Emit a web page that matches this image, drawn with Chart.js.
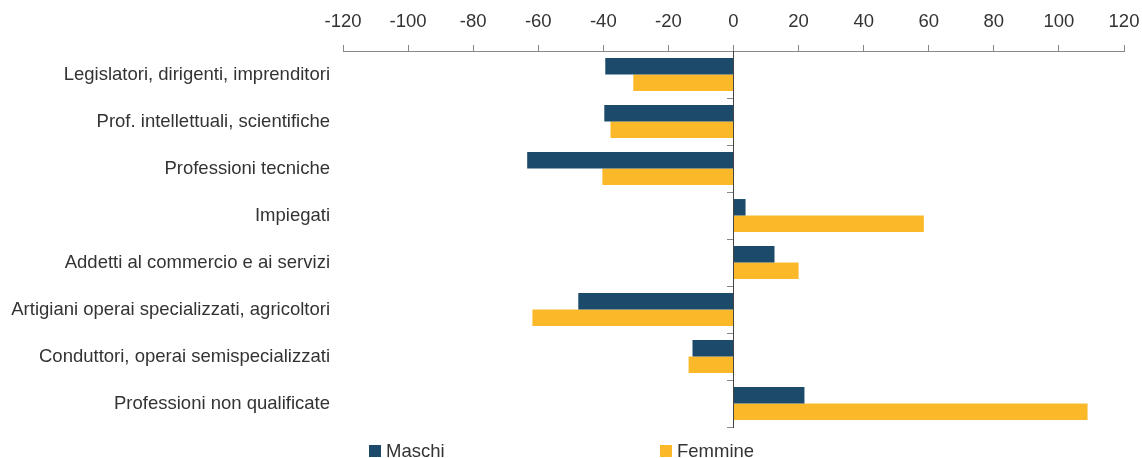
<!DOCTYPE html>
<html>
<head>
<meta charset="utf-8">
<script src="https://cdn.jsdelivr.net/npm/chart.js@4"></script>
<style>
  html, body { margin: 0; padding: 0; background: #fff; }
  #wrap { width: 1142px; height: 458px; position: relative; }
</style>
</head>
<body>
<div id="wrap"><canvas id="c" width="1142" height="458"></canvas></div>
<script>
const categories = [
  "Legislatori, dirigenti, imprenditori",
  "Prof. intellettuali, scientifiche",
  "Professioni tecniche",
  "Impiegati",
  "Addetti al commercio e ai servizi",
  "Artigiani operai specializzati, agricoltori",
  "Conduttori, operai semispecializzati",
  "Professioni non qualificate"
];
const maschi = [-39.4, -39.7, -63.4, 3.7, 12.6, -47.7, -12.6, 21.8];
const femmine = [-30.8, -37.8, -40.3, 58.5, 20.0, -61.8, -13.8, 108.8];
const seriesNames = ["Maschi", "Femmine"];
const seriesColors = ["#1b4a6b", "#fbb929"];
const xMin = -120, xMax = 120, xStep = 20;

const FONT = "'Liberation Sans', Arial, sans-serif";
const TEXT = "#333333";

const legendPlugin = {
  id: 'fixedLegend',
  afterDraw(chart) {
    const ctx = chart.ctx;
    const xs = [369, 660];
    ctx.save();
    ctx.font = "18.5px " + FONT;
    ctx.textBaseline = 'alphabetic';
    ctx.textAlign = 'left';
    chart.data.datasets.forEach((ds, i) => {
      ctx.fillStyle = ds.backgroundColor;
      ctx.fillRect(xs[i], 445, 12, 12);
      ctx.fillStyle = TEXT;
      ctx.fillText(ds.label, xs[i] + 17, 457);
    });
    ctx.restore();
  }
};

new Chart(document.getElementById('c'), {
  type: 'bar',
  data: {
    labels: categories,
    datasets: [
      { label: seriesNames[0], data: maschi, backgroundColor: seriesColors[0], categoryPercentage: 0.7, barPercentage: 1.0 },
      { label: seriesNames[1], data: femmine, backgroundColor: seriesColors[1], categoryPercentage: 0.7, barPercentage: 1.0 }
    ]
  },
  options: {
    indexAxis: 'y',
    responsive: false,
    animation: false,
    layout: { padding: { left: 0, right: 18, top: 0, bottom: 31 } },
    plugins: {
      legend: { display: false },
      tooltip: { enabled: false }
    },
    scales: {
      x: {
        type: 'linear',
        position: 'top',
        min: xMin, max: xMax,
        ticks: { stepSize: xStep, color: TEXT, font: { family: FONT, size: 18.5 }, padding: 12, maxRotation: 0 },
        grid: { drawOnChartArea: false, tickLength: 6, color: '#888888', lineWidth: 1 },
        border: { display: true, color: '#888888', width: 1 },
        afterFit(scale) { scale.height = 51; scale.paddingLeft = 0; scale.paddingRight = 0; }
      },
      y: {
        type: 'category',
        position: 'left',
        ticks: { color: TEXT, font: { family: FONT, size: 18.5 }, padding: 13 },
        grid: { display: false, drawTicks: false },
        border: { display: false },
        afterFit(scale) { scale.width = 343; }
      },
      y0: {
        type: 'category',
        labels: categories,
        position: { x: 0 },
        offset: true,
        ticks: { display: false },
        grid: { offset: true, drawOnChartArea: false, tickLength: 6, color: '#888888' },
        border: { display: true, color: '#444444', width: 1 }
      }
    }
  },
  plugins: [legendPlugin]
});
</script>
</body>
</html>
